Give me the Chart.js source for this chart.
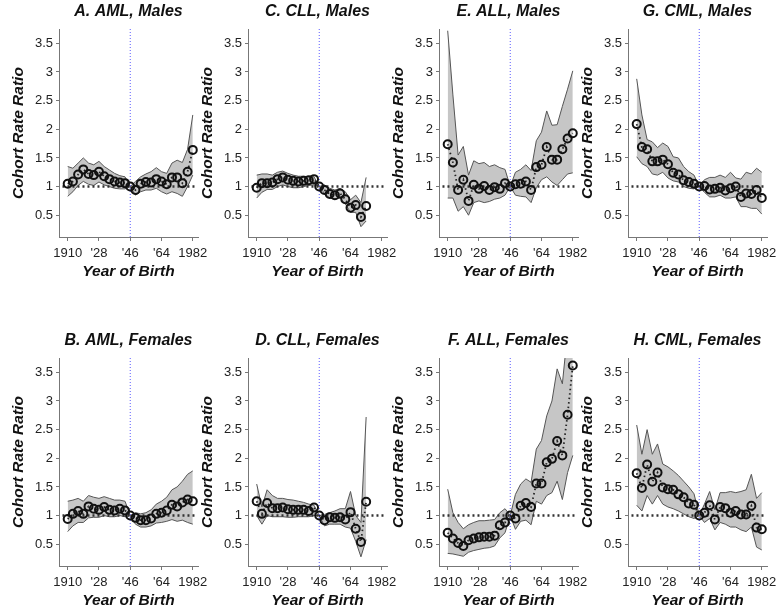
<!DOCTYPE html>
<html>
<head>
<meta charset="utf-8">
<script src="https://cdn.jsdelivr.net/npm/chart.js@4.4.0/dist/chart.umd.min.js"></script>
<style>
body{margin:0;background:#fff}
#wrap{position:relative;width:783px;height:616px;overflow:hidden;background:#fff}
#wrap canvas{position:absolute}
</style>
</head>
<body>
<div id="wrap"></div>
<script>
// cohortes de nacimiento (cada 3 años)
const cohortYears = [1910,1913,1916,1919,1922,1925,1928,1931,1934,1937,1940,1943,1946,1949,1952,1955,1958,1961,1964,1967,1970,1973,1976,1979,1982];
const yearTicks = [1910,1928,1946,1964,1982];
const yearTickLabels = ['1910',"'28","'46","'64",'1982'];
const ratioTicks = [0.5,1,1.5,2,2.5,3,3.5];
const refYear = 1946;
const refLineYears = [1907,1984];
const yMin = 0.12, yMax = 3.75;

// A. AML, Males
const amlMaleRR = [1.05,1.09,1.21,1.30,1.22,1.20,1.26,1.18,1.13,1.09,1.07,1.06,1.00,0.94,1.05,1.08,1.07,1.13,1.09,1.04,1.16,1.16,1.06,1.26,1.64];
const amlMaleHi = [1.35,1.32,1.41,1.50,1.41,1.38,1.44,1.35,1.29,1.23,1.19,1.17,1.00,1.09,1.17,1.22,1.26,1.33,1.26,1.23,1.41,1.46,1.42,1.65,2.25];
const amlMaleLo = [0.83,0.91,1.02,1.09,1.04,1.02,1.08,1.03,1.00,0.97,0.96,0.96,1.00,0.85,0.91,0.94,0.94,0.97,0.91,0.87,0.91,0.88,0.83,1.00,1.20];
// B. AML, Females
const amlFemRR = [0.94,1.03,1.08,1.03,1.16,1.12,1.10,1.15,1.10,1.09,1.12,1.09,1.00,0.96,0.92,0.92,0.95,1.03,1.05,1.09,1.19,1.16,1.23,1.28,1.25];
const amlFemHi = [1.25,1.27,1.30,1.25,1.35,1.32,1.30,1.33,1.30,1.27,1.27,1.25,1.00,1.05,1.03,1.05,1.10,1.20,1.25,1.32,1.45,1.50,1.60,1.72,1.78];
const amlFemLo = [0.72,0.82,0.88,0.88,0.96,0.97,0.97,1.00,0.98,0.98,1.00,0.98,1.00,0.85,0.80,0.80,0.82,0.87,0.88,0.90,0.93,0.90,0.92,0.88,0.85];
// C. CLL, Males
const cllMaleRR = [0.98,1.06,1.06,1.07,1.13,1.16,1.12,1.10,1.09,1.10,1.11,1.13,1.00,0.94,0.87,0.85,0.88,0.78,0.63,0.68,0.47,0.66];
const cllMaleHi = [1.20,1.22,1.22,1.20,1.25,1.27,1.23,1.20,1.18,1.18,1.17,1.17,1.00,1.03,0.97,0.94,0.97,0.91,0.77,0.85,0.72,1.16];
const cllMaleLo = [0.80,0.90,0.95,0.95,1.00,1.03,1.00,0.98,0.98,1.00,1.02,1.03,1.00,0.88,0.80,0.78,0.80,0.70,0.55,0.55,0.30,0.40];
// D. CLL, Females
const cllFemRR = [1.25,1.03,1.22,1.13,1.13,1.14,1.11,1.10,1.10,1.10,1.08,1.14,1.00,0.92,0.97,0.96,0.97,0.93,1.06,0.77,0.54,1.24];
const cllFemHi = [1.55,1.15,1.45,1.35,1.30,1.30,1.28,1.27,1.25,1.23,1.20,1.18,1.00,1.02,1.05,1.08,1.12,1.12,1.42,1.00,0.88,2.72];
const cllFemLo = [1.00,0.85,1.00,0.98,0.98,0.98,0.97,0.97,0.98,0.98,0.98,1.00,1.00,0.82,0.85,0.85,0.85,0.80,0.78,0.55,0.28,0.58];
// E. ALL, Males
const allMaleRR = [1.74,1.42,0.94,1.12,0.75,1.03,0.96,1.01,0.94,0.99,0.96,1.06,1.00,1.04,1.05,1.09,0.94,1.34,1.38,1.69,1.47,1.47,1.65,1.84,1.93];
const allMaleHi = [3.72,2.60,1.55,1.70,1.20,1.45,1.40,1.42,1.35,1.38,1.33,1.30,1.00,1.25,1.30,1.38,1.28,1.80,1.95,2.32,2.07,2.08,2.40,2.70,3.02];
const allMaleLo = [0.80,0.80,0.57,0.65,0.50,0.72,0.75,0.72,0.74,0.78,0.80,0.85,1.00,0.85,0.83,0.82,0.72,0.98,1.12,1.17,1.08,1.02,1.12,1.22,1.24];
// F. ALL, Females
const allFemRR = [0.70,0.60,0.52,0.47,0.57,0.60,0.62,0.63,0.63,0.65,0.83,0.88,1.00,0.95,1.17,1.22,1.15,1.56,1.56,1.93,1.99,2.30,2.05,2.76,3.62];
const allFemHi = [1.46,1.05,0.88,0.77,0.84,0.88,0.91,0.91,0.92,0.93,1.05,1.12,1.00,1.37,1.55,1.64,1.58,2.16,2.31,2.74,3.00,3.56,3.30,4.20,4.60];
const allFemLo = [0.34,0.33,0.31,0.29,0.36,0.39,0.41,0.43,0.44,0.47,0.61,0.70,1.00,0.76,0.90,0.92,0.84,1.25,1.20,1.35,1.40,1.60,1.28,1.75,2.05];
// G. CML, Males
const cmlMaleRR = [2.09,1.69,1.65,1.44,1.44,1.47,1.39,1.24,1.21,1.11,1.08,1.05,1.00,1.01,0.95,0.96,0.98,0.93,0.97,1.00,0.82,0.88,0.87,0.94,0.80];
const cmlMaleHi = [2.88,2.25,1.82,1.78,1.68,1.76,1.70,1.52,1.50,1.35,1.26,1.20,1.00,1.12,1.16,1.16,1.20,1.16,1.25,1.15,1.13,1.25,1.22,1.32,1.25];
const cmlMaleLo = [1.52,1.40,1.35,1.22,1.20,1.25,1.15,1.10,1.08,1.00,0.97,0.96,1.00,0.90,0.82,0.82,0.85,0.80,0.80,0.82,0.65,0.65,0.62,0.62,0.52];
// H. CML, Females
const cmlFemRR = [1.74,1.48,1.89,1.59,1.75,1.49,1.46,1.45,1.37,1.32,1.21,1.19,1.00,1.05,1.18,0.93,1.15,1.13,1.05,1.08,1.02,1.02,1.17,0.79,0.76];
const cmlFemHi = [2.58,2.07,2.50,2.07,2.25,1.90,1.85,1.78,1.70,1.60,1.50,1.38,1.00,1.20,1.42,1.10,1.40,1.40,1.42,1.40,1.42,1.45,1.72,1.30,1.40];
const cmlFemLo = [1.18,1.08,1.35,1.20,1.35,1.20,1.15,1.12,1.08,1.03,0.98,0.95,1.00,0.88,0.95,0.75,0.88,0.85,0.80,0.80,0.75,0.72,0.80,0.45,0.40];

const paneles = [
  {title:'A. AML, Males',   left:0,   top:0,   rr:amlMaleRR, hi:amlMaleHi, lo:amlMaleLo},
  {title:'C. CLL, Males',   left:189, top:0,   rr:cllMaleRR, hi:cllMaleHi, lo:cllMaleLo},
  {title:'E. ALL, Males',   left:380, top:0,   rr:allMaleRR, hi:allMaleHi, lo:allMaleLo},
  {title:'G. CML, Males',   left:569, top:0,   rr:cmlMaleRR, hi:cmlMaleHi, lo:cmlMaleLo},
  {title:'B. AML, Females', left:0,   top:329, rr:amlFemRR,  hi:amlFemHi,  lo:amlFemLo},
  {title:'D. CLL, Females', left:189, top:329, rr:cllFemRR,  hi:cllFemHi,  lo:cllFemLo},
  {title:'F. ALL, Females', left:380, top:329, rr:allFemRR,  hi:allFemHi,  lo:allFemLo},
  {title:'H. CML, Females', left:569, top:329, rr:cmlFemRR,  hi:cmlFemHi,  lo:cmlFemLo}
];

const fuente = 'Liberation Sans, Arial, sans-serif';

function dibujarPanel(p){
  const cv = document.createElement('canvas');
  cv.width = 214; cv.height = 290;
  cv.style.left = p.left + 'px';
  cv.style.top = p.top + 'px';
  document.getElementById('wrap').appendChild(cv);

  const yrs = cohortYears.slice(0, p.rr.length);
  const pts = arr => arr.map((v, i) => ({x: yrs[i], y: v}));

  new Chart(cv, {
    type: 'line',
    data: {
      datasets: [
        {data: pts(p.hi), borderColor: '#555', borderWidth: 1, backgroundColor: '#c6c6c6', fill: '+1', pointRadius: 0, order: 4},
        {data: pts(p.lo), borderColor: '#555', borderWidth: 1, fill: false, pointRadius: 0, order: 3},
        {data: refLineYears.map(x => ({x: x, y: 1})), borderColor: '#333', borderWidth: 2.5, borderDash: [2, 3], pointRadius: 0, fill: false, order: 2},
        {data: [{x: refYear, y: yMin}, {x: refYear, y: yMax}], borderColor: '#5b5bff', borderWidth: 1, borderDash: [1, 2], pointRadius: 0, fill: false, order: 1},
        {data: pts(p.rr), borderColor: '#222', borderWidth: 1.8, borderDash: [1.5, 3], fill: false,
         pointRadius: 4, pointBorderWidth: 2, pointBorderColor: '#111', pointBackgroundColor: 'rgba(0,0,0,0)', order: 0}
      ]
    },
    options: {
      responsive: false,
      animation: false,
      devicePixelRatio: 1,
      layout: {padding: {left: 0, right: 16, top: 0, bottom: 0}},
      plugins: {
        legend: {display: false},
        tooltip: {enabled: false},
        title: {display: true, fullSize: false, text: p.title, color: '#111',
                font: {family: fuente, size: 16, style: 'italic', weight: 'bold'},
                padding: {top: 2.4, bottom: 7.4}}
      },
      scales: {
        x: {
          type: 'linear', min: 1905, max: 1985,
          afterFit: s => { s.height = 53; },
          afterBuildTicks: s => { s.ticks = yearTicks.map(v => ({value: v})); },
          ticks: {callback: v => yearTickLabels[yearTicks.indexOf(v)], color: '#222', autoSkip: false, maxRotation: 0,
                  padding: 5, font: {family: fuente, size: 13}},
          grid: {drawOnChartArea: false, tickLength: 4, color: '#777'},
          border: {color: '#777', dash: [1, 1]},
          title: {display: true, text: 'Year of Birth', color: '#111',
                  font: {family: fuente, size: 15.5, style: 'italic', weight: 'bold'}, padding: {top: 0, bottom: 8.7}}
        },
        y: {
          min: yMin, max: yMax,
          afterFit: s => { s.width = 59; },
          afterBuildTicks: s => { s.ticks = ratioTicks.map(v => ({value: v})); },
          ticks: {callback: v => String(v), color: '#222', padding: 3, font: {family: fuente, size: 13}},
          grid: {drawOnChartArea: false, tickLength: 3, color: '#777'},
          border: {color: '#777', dash: [1, 1]},
          title: {display: true, text: 'Cohort Rate Ratio', color: '#111',
                  font: {family: fuente, size: 15.5, style: 'italic', weight: 'bold'}, padding: {top: 9.7, bottom: 0}}
        }
      }
    }
  });
}

document.addEventListener("DOMContentLoaded", function(event) {
  paneles.forEach(dibujarPanel);
});
</script>
</body>
</html>
